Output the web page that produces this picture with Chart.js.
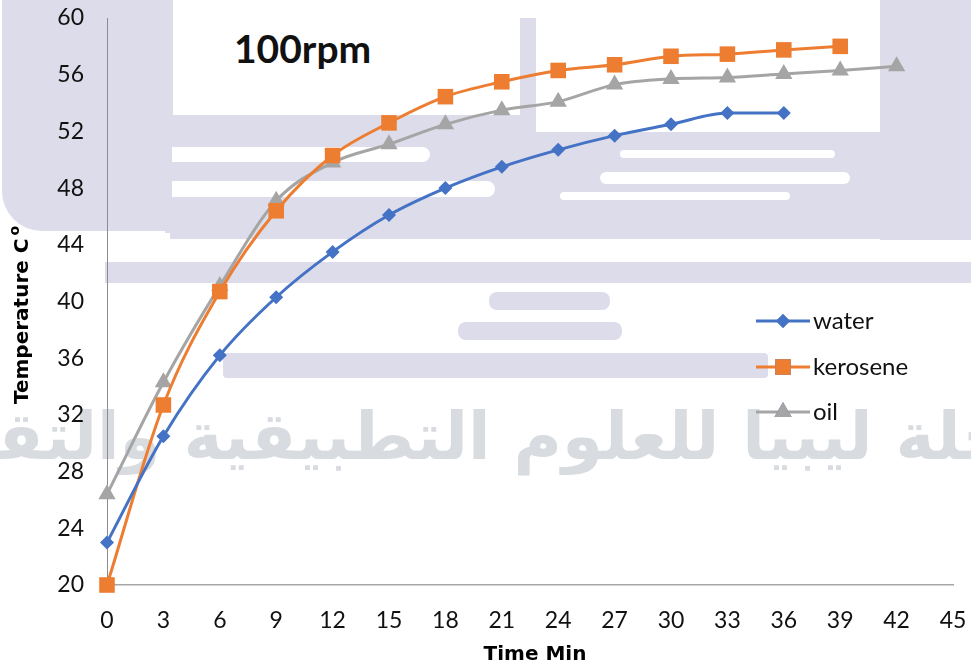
<!DOCTYPE html>
<html>
<head>
<meta charset="utf-8">
<script src="https://cdn.jsdelivr.net/npm/chart.js@4.4.1/dist/chart.umd.min.js"></script>
<style>
  html, body { margin:0; padding:0; background:#fff; }
  #wrap { position:relative; width:971px; height:666px; overflow:hidden; background:#fff; }
  .wm { position:absolute; background:#dcdcea; }
  .wh { position:absolute; background:#fff; }
  #arabic { position:absolute; left:-80px; width:1131px; top:398px; text-align:center; direction:rtl;
    font-family:"DejaVu Sans", sans-serif; font-weight:bold; font-size:66px; color:#d8dbdf; white-space:nowrap; }
  #rpm { position:absolute; left:234px; top:29px; line-height:1; font-family:Lato, "Liberation Sans", sans-serif; font-weight:bold; font-size:39px; color:#111; }
  canvas { position:absolute; left:0; top:0; }
</style>
</head>
<body>
<div id="wrap">
  <div class="wm" style="left:2px;top:0;width:171px;height:231px;border-bottom-left-radius:40px"></div>
  <div class="wm" style="left:165px;top:115px;width:355px;height:118px"></div>
  <div class="wh" style="left:172px;top:147px;width:258px;height:15px;border-radius:0 8px 8px 0"></div>
  <div class="wh" style="left:172px;top:181px;width:323px;height:16px;border-radius:0 8px 8px 0"></div>
  <div class="wm" style="left:520px;top:18px;width:16px;height:215px"></div>
  <div class="wm" style="left:536px;top:132px;width:345px;height:101px"></div>
  <div class="wh" style="left:620px;top:150px;width:215px;height:8px;border-radius:6px"></div>
  <div class="wh" style="left:600px;top:172px;width:250px;height:12px;border-radius:6px"></div>
  <div class="wh" style="left:560px;top:192px;width:230px;height:8px;border-radius:6px"></div>
  <div class="wm" style="left:880px;top:0;width:91px;height:240px"></div>
  <div class="wm" style="left:170px;top:227px;width:801px;height:12px"></div>
  <div class="wm" style="left:105px;top:262px;width:866px;height:21px"></div>
  <div class="wm" style="left:489px;top:292px;width:121px;height:18px;border-radius:8px"></div>
  <div class="wm" style="left:458px;top:322px;width:164px;height:18px;border-radius:8px"></div>
  <div class="wm" style="left:223px;top:353px;width:545px;height:25px;border-radius:4px"></div>
  <div id="arabic">مجلة ليبيا للعلوم التطبيقية والتقنية</div>
  <div id="rpm">100rpm</div>
  <canvas id="c" width="971" height="666"></canvas>
</div>
<script>
const timeMin = [0, 3, 6, 9, 12, 15, 18, 21, 24, 27, 30, 33, 36, 39, 42];
const water    = [23.0, 30.5, 36.2, 40.3, 43.5, 46.1, 48.0, 49.5, 50.7, 51.7, 52.5, 53.3, 53.3];
const kerosene = [20.0, 32.7, 40.7, 46.4, 50.3, 52.6, 54.45, 55.5, 56.3, 56.7, 57.3, 57.45, 57.75, 58.0];
const oil      = [26.4, 34.3, 41.1, 47.1, 49.8, 51.1, 52.5, 53.5, 54.1, 55.3, 55.7, 55.8, 56.05, 56.3, 56.6];
const seriesNames = ['water', 'kerosene', 'oil'];
const xTitle = 'Time Min';
const yTitle = 'Temperature C';
const yTitleSup = 'o';

function pts(vals) { return vals.map((v, i) => ({ x: timeMin[i], y: v })); }

const FONT = 'Lato, "Liberation Sans", sans-serif';
const TFONT = '"DejaVu Sans", sans-serif';
const colors = ['#4472C4', '#ED7D31', '#A5A5A5'];
const styles = ['rectRot', 'rect', 'triangle'];
const radii = [7, 11, 10];

const legendPlugin = {
  id: 'customLegend',
  afterDraw(chart) {
    const ctx = chart.ctx;
    const rows = [321, 367, 412];
    chart.data.datasets.forEach((ds, i) => {
      const y = rows[i];
      ctx.save();
      ctx.strokeStyle = ds.borderColor;
      ctx.lineWidth = 3;
      ctx.beginPath();
      ctx.moveTo(756, y); ctx.lineTo(810, y);
      ctx.stroke();
      Chart.helpers.drawPoint(ctx, { pointStyle: ds.pointStyle, radius: ds.pointRadius, borderWidth: 0, rotation: 0 }, 783, y);
      ctx.fillStyle = ds.backgroundColor;
      ctx.fill();
      ctx.fillStyle = '#111';
      ctx.font = '24px ' + FONT;
      ctx.textBaseline = 'middle';
      ctx.textAlign = 'left';
      ctx.fillText(ds.label, 813, y);
      ctx.restore();
    });
  }
};

const titlesPlugin = {
  id: 'axisTitles',
  afterDraw(chart) {
    const ctx = chart.ctx;
    ctx.save();
    ctx.fillStyle = '#000';
    ctx.font = 'bold 20px ' + TFONT;
    ctx.textAlign = 'center';
    ctx.textBaseline = 'alphabetic';
    ctx.fillText(xTitle, 535, 660);
    // rotated y title
    ctx.translate(20.5, 313);
    ctx.rotate(-Math.PI / 2);
    ctx.font = 'bold 20px ' + TFONT;
    const w1 = ctx.measureText(yTitle + ' ').width;
    ctx.font = 'bold 14px ' + TFONT;
    const w2 = ctx.measureText(yTitleSup).width;
    const start = -(w1 + w2) / 2;
    ctx.textAlign = 'left';
    ctx.font = 'bold 20px ' + TFONT;
    ctx.fillText(yTitle, start, 7.3);
    ctx.font = 'bold 14px ' + TFONT;
    ctx.fillText(yTitleSup, start + w1 - 4, -1.5);
    ctx.restore();
  }
};

new Chart(document.getElementById('c'), {
  type: 'line',
  data: {
    datasets: [water, kerosene, oil].map((vals, i) => ({
      label: seriesNames[i],
      data: pts(vals),
      borderColor: colors[i],
      backgroundColor: colors[i],
      borderWidth: 3,
      pointStyle: styles[i],
      pointRadius: radii[i],
      pointBorderWidth: 0,
      pointBackgroundColor: colors[i],
      cubicInterpolationMode: 'monotone',
      clip: false
    }))
  },
  options: {
    responsive: false,
    animation: false,
    layout: { padding: { top: 18, right: 18, left: 0, bottom: 0 } },
    plugins: { legend: { display: false }, tooltip: { enabled: false } },
    scales: {
      x: {
        type: 'linear', min: 0, max: 45,
        ticks: { stepSize: 3, padding: 22, color: '#111', font: { family: FONT, size: 23 }, maxRotation: 0 },
        grid: { display: false, drawTicks: false },
        border: { display: true, color: '#a6a6a6', width: 1.5 },
        title: { display: false },
        afterFit(s) { s.height = 81; s.paddingLeft = 0; s.paddingRight = 0; }
      },
      y: {
        type: 'linear', min: 20, max: 60,
        ticks: { stepSize: 4, padding: 23, color: '#111', font: { family: FONT, size: 23 } },
        grid: { display: false, drawTicks: false },
        border: { display: true, color: '#8c8c8c', width: 1 },
        title: { display: false },
        afterFit(s) { s.width = 107; s.paddingTop = 0; s.paddingBottom = 0; }
      }
    }
  },
  plugins: [legendPlugin, titlesPlugin]
});
</script>
</body>
</html>
